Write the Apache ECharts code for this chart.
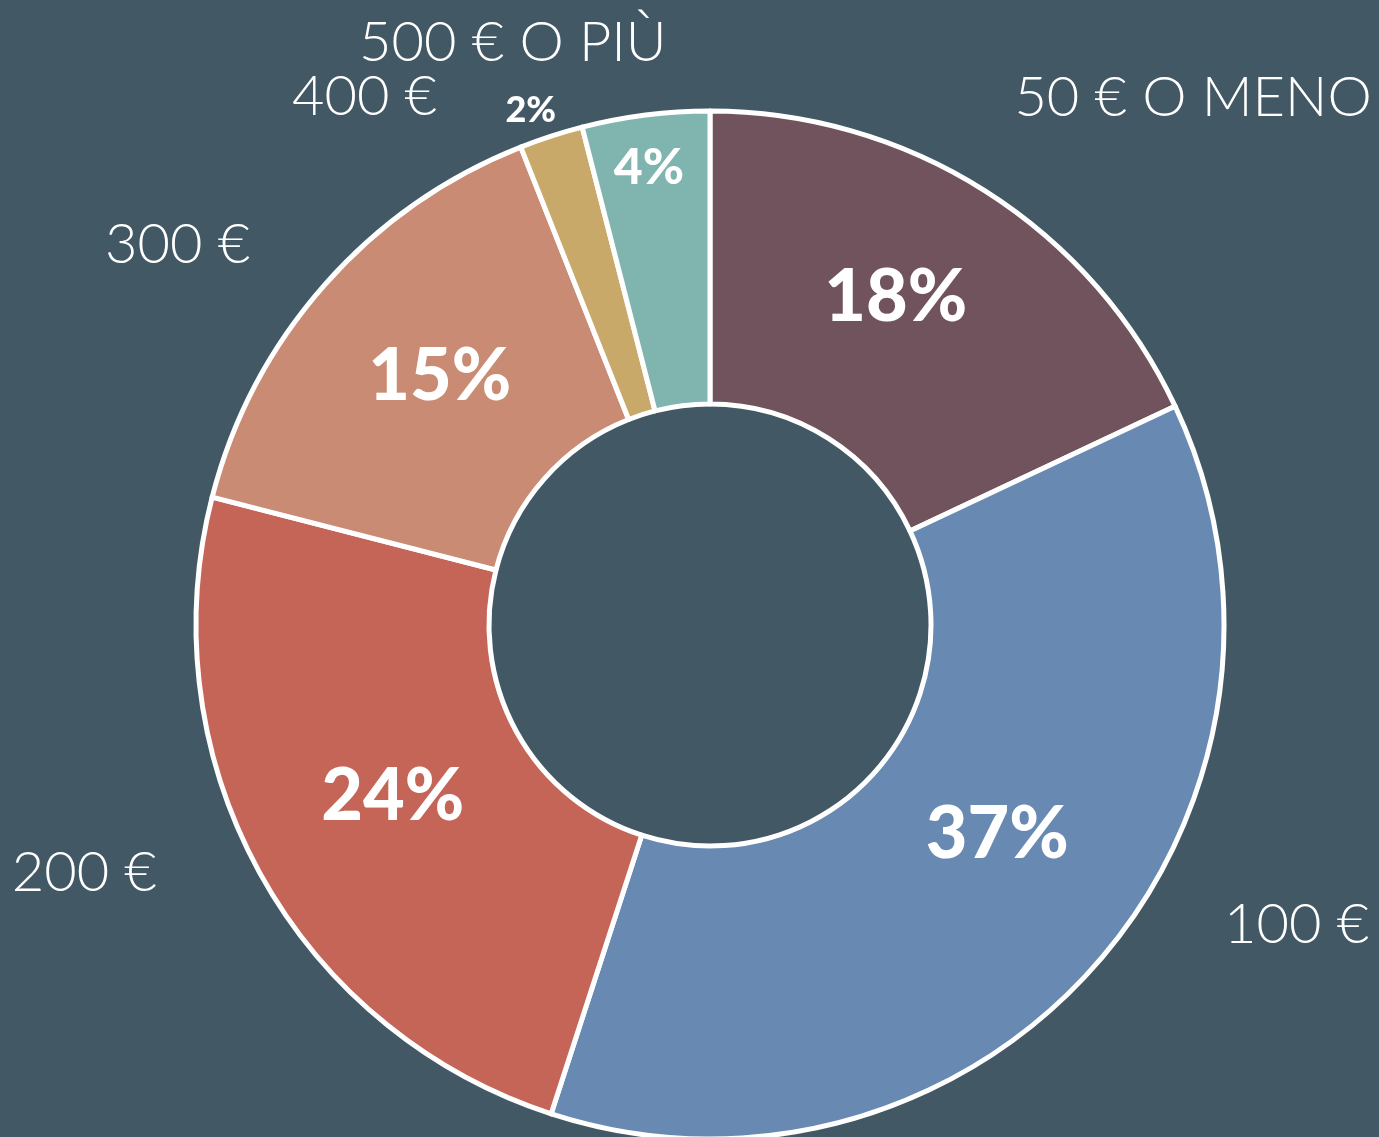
<!DOCTYPE html>
<html>
<head>
<meta charset="utf-8">
<style>
  html, body { margin: 0; padding: 0; background: #435865; }
  #chart { width: 1379px; height: 1137px; }
</style>
<script src="https://cdn.jsdelivr.net/npm/echarts@6/dist/echarts.min.js"></script>
</head>
<body>
<div id="chart"></div>
<script>
// ---- data ----
var categories = ['50 € O MENO', '100 €', '200 €', '300 €', '400 €', '500 € O PIÙ'];
var values = [18, 37, 24, 15, 2, 4];
var colors = ['#71535D', '#6889B1', '#C56558', '#C98B73', '#C9A96A', '#80B4AE'];

// ---- label placement (polar: angle clockwise from top in degrees, distance from centre px) ----
var pctLabelPos = [[29.6, 376], [126.2, 356], [241.5, 361], [312.6, 367], [340.8, 545], [352.4, 461]];
var pctFontSize = [72, 72, 72, 72, 36, 50];
var nameLabelPos = [[42.5, 715], [117.1, 659], [248.4, 673], [305.5, 654], [326.8, 631], [341.3, 615]];

var CX = 710, CY = 625;
function polar(p) {
  var a = p[0] * Math.PI / 180;
  return { x: CX + p[1] * Math.sin(a), y: CY - p[1] * Math.cos(a) };
}

var chart = echarts.init(document.getElementById('chart'), null, { renderer: 'canvas' });

var pctData = categories.map(function (c, i) {
  return {
    name: c, value: values[i],
    itemStyle: { color: colors[i] },
    label: { fontSize: pctFontSize[i] }
  };
});
var nameData = categories.map(function (c, i) {
  return { name: c, value: values[i] };
});

chart.setOption({
  backgroundColor: '#435865',
  animation: false,
  series: [
    {
      type: 'pie',
      center: [CX, CY],
      radius: [221, 514],
      startAngle: 90,
      clockwise: true,
      avoidLabelOverlap: false,
      silent: true,
      itemStyle: { borderColor: '#ffffff', borderWidth: 5 },
      label: {
        show: true,
        position: 'inside',
        formatter: '{c}%',
        color: '#ffffff',
        fontFamily: 'Lato',
        fontWeight: 900
      },
      labelLine: { show: false },
      labelLayout: function (params) {
        var p = polar(pctLabelPos[params.dataIndex]);
        return { x: p.x, y: p.y, align: 'center', verticalAlign: 'middle' };
      },
      data: pctData
    },
    {
      type: 'pie',
      center: [CX, CY],
      radius: [221, 514],
      startAngle: 90,
      clockwise: true,
      avoidLabelOverlap: false,
      silent: true,
      itemStyle: { color: 'rgba(0,0,0,0)', borderWidth: 0 },
      label: {
        show: true,
        position: 'outside',
        formatter: '{b}',
        color: '#ffffff',
        fontFamily: 'Lato',
        fontWeight: 300,
        fontSize: 56
      },
      labelLine: { show: false },
      labelLayout: function (params) {
        var p = polar(nameLabelPos[params.dataIndex]);
        return { x: p.x, y: p.y, align: 'center', verticalAlign: 'middle' };
      },
      data: nameData
    }
  ]
});
</script>
</body>
</html>
